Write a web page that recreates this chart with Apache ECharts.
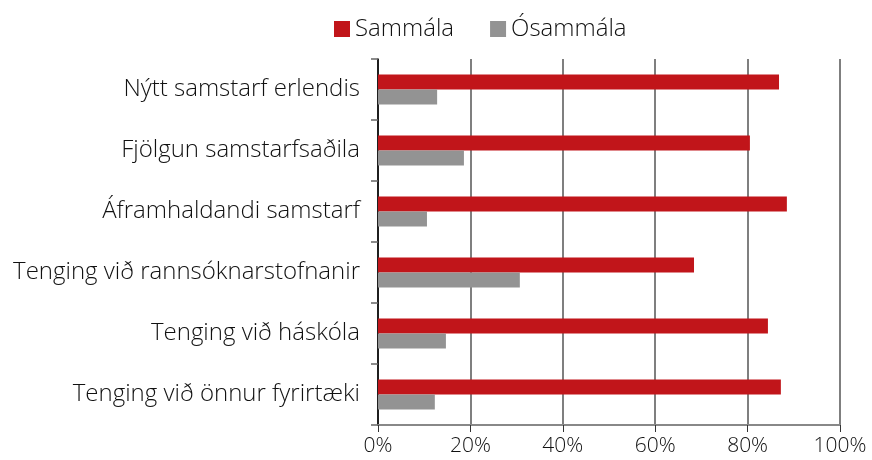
<!DOCTYPE html>
<html>
<head>
<meta charset="utf-8">
<script src="https://cdn.jsdelivr.net/npm/echarts@6/dist/echarts.min.js"></script>
<style>
  html, body { margin: 0; padding: 0; background: #fff; }
  #chart { width: 872px; height: 460px; }
</style>
</head>
<body>
<div id="chart"></div>
<script>
const categories = [
  'Nýtt samstarf erlendis',
  'Fjölgun samstarfsaðila',
  'Áframhaldandi samstarf',
  'Tenging við rannsóknarstofnanir',
  'Tenging við háskóla',
  'Tenging við önnur fyrirtæki'
]
const sammala = [86.8, 80.5, 88.5, 68.4, 84.4, 87.2]
const osammala = [12.8, 18.6, 10.6, 30.7, 14.7, 12.3]
const seriesNames = ['Sammála', 'Ósammála']

const font = '"Open Sans", "Liberation Sans", sans-serif'

const chart = echarts.init(document.getElementById('chart'))
const option = {
  animation: false,
  textStyle: { fontFamily: font },
  legend: {
    data: seriesNames,
    left: 329,
    top: 12,
    itemWidth: 16,
    itemHeight: 16,
    itemGap: 36,
    icon: 'rect',
    textStyle: { fontSize: 24, color: '#111', fontWeight: 300, fontFamily: font }
  },
  grid: { left: 378, right: 32, top: 59, bottom: 35, containLabel: false },
  xAxis: {
    type: 'value',
    min: 0,
    max: 100,
    interval: 20,
    axisLine: { show: true, lineStyle: { color: '#888', width: 2 } },
    axisTick: { show: true, length: 7, lineStyle: { color: '#333' } },
    axisLabel: {
      formatter: '{value}%', fontSize: 21, color: '#111', margin: 11,
      fontWeight: 300, fontFamily: font
    },
    splitLine: { show: true, lineStyle: { color: '#555', width: 1.5 } }
  },
  yAxis: {
    type: 'category',
    data: categories,
    inverse: true,
    axisLine: { show: true, lineStyle: { color: '#000', width: 1.5 } },
    axisTick: { show: true, length: 7, lineStyle: { color: '#666', width: 1.5 } },
    axisLabel: { fontSize: 24, color: '#111', margin: 18, fontWeight: 300, fontFamily: font }
  },
  series: [
    {
      name: seriesNames[0],
      type: 'bar',
      data: sammala,
      barWidth: 15,
      barGap: '0%',
      itemStyle: { color: '#c1151a' }
    },
    {
      name: seriesNames[1],
      type: 'bar',
      data: osammala,
      barWidth: 15,
      itemStyle: { color: '#939393' }
    }
  ]
}
chart.setOption(option)
</script>
</body>
</html>
